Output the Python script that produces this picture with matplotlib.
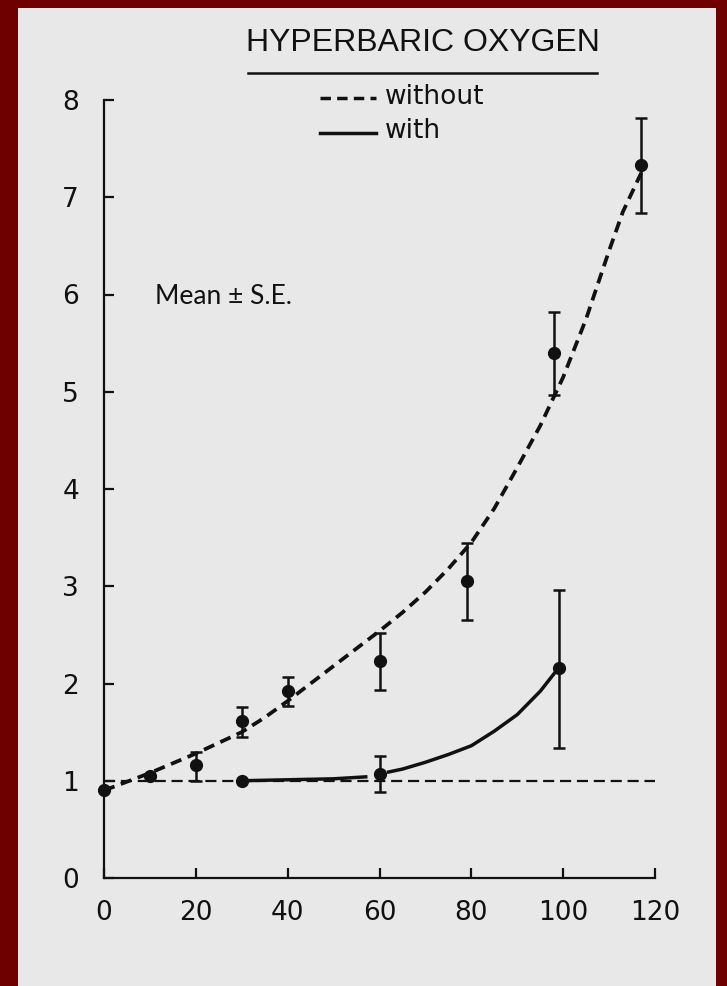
"""
Hyperbaric oxygen - mean +/- S.E. with and without, redrawn from scan.
"""
import matplotlib
matplotlib.use("Agg")
import matplotlib.pyplot as plt
from matplotlib.lines import Line2D
from matplotlib.patches import Rectangle

# measured points (without)
x_without = [0, 10, 20, 30, 40, 60, 79, 98, 117]
y_without = [0.90, 1.05, 1.16, 1.61, 1.92, 2.23, 3.05, 5.40, 7.33]
err_lo_without = [0.0, 0.0, 0.16, 0.16, 0.15, 0.30, 0.40, 0.43, 0.49]
err_hi_without = [0.0, 0.0, 0.14, 0.15, 0.15, 0.29, 0.39, 0.42, 0.49]

# measured points (with)
x_with = [30, 60, 99]
y_with = [1.00, 1.07, 2.16]
err_lo_with = [0.0, 0.19, 0.82]
err_hi_with = [0.0, 0.18, 0.80]

# fitted curve
curve_without_x = [0, 5, 10, 15, 20, 25, 30, 35, 40, 45, 50, 55, 60, 65,
                   70, 75, 80, 85, 90, 95, 100, 105, 110, 113, 117]
curve_without_y = [0.90, 0.99, 1.08, 1.18, 1.28, 1.39, 1.50, 1.65, 1.82,
                   2.00, 2.18, 2.36, 2.54, 2.73, 2.94, 3.18, 3.45, 3.80,
                   4.22, 4.65, 5.15, 5.75, 6.45, 6.85, 7.25]

curve_with_x1 = [30, 40, 50, 57]
curve_with_y1 = [1.00, 1.01, 1.02, 1.04]
curve_with_x2 = [62, 65, 70, 75, 80, 85, 90, 95, 98]
curve_with_y2 = [1.09, 1.12, 1.19, 1.27, 1.36, 1.51, 1.68, 1.92, 2.10]

baseline_x = [0, 120]
baseline_y = [1, 1]

x_ticks = [0, 20, 40, 60, 80, 100, 120]
y_ticks = [0, 1, 2, 3, 4, 5, 6, 7, 8]

INK = "#111111"
PAPER = "#e8e8e8"
BORDER = "#6f0000"

W, H = 727, 986
fig = plt.figure(figsize=(W / 100, H / 100), dpi=100, facecolor=BORDER)
fig.add_artist(Rectangle((18 / W, 0), (716 - 18) / W, (H - 8) / H,
                         transform=fig.transFigure, facecolor=PAPER,
                         edgecolor="none", zorder=0))

ax = fig.add_axes([104 / W, (H - 878) / H, (655 - 104) / W, (878 - 100) / H])
ax.set_facecolor("none")
ax.set_xlim(0, 120)
ax.set_ylim(0, 8)

for side in ["top", "right"]:
    ax.spines[side].set_visible(False)
for side in ["left", "bottom"]:
    ax.spines[side].set_linewidth(1.6)
    ax.spines[side].set_color(INK)

tick_font = dict(family="DejaVu Sans", size=19)
ax.set_xticks(x_ticks)
ax.set_yticks(y_ticks)
ax.set_xticklabels([str(t) for t in x_ticks], **tick_font)
ax.set_yticklabels([str(t) for t in y_ticks], **tick_font)
ax.tick_params(axis="both", direction="in", length=7, width=1.6,
               colors=INK, labelcolor=INK)
ax.tick_params(axis="x", pad=16)
ax.tick_params(axis="y", pad=18)

# reference line at 1
ax.plot(baseline_x, baseline_y, color=INK, lw=1.6, dashes=(5, 2.6),
        clip_on=False, zorder=2)

# curves
ax.plot(curve_without_x, curve_without_y, color=INK, lw=2.7,
        dashes=(3.0, 1.8), clip_on=False, zorder=3)
ax.plot(curve_with_x1, curve_with_y1, color=INK, lw=2.5, zorder=3)
ax.plot(curve_with_x2, curve_with_y2, color=INK, lw=2.5, zorder=3)

# points with error bars
ax.errorbar(x_without, y_without, yerr=[err_lo_without, err_hi_without],
            fmt="o", color=INK, ms=8.5, elinewidth=1.8, capsize=4.5,
            capthick=1.8, clip_on=False, zorder=4)
ax.errorbar(x_with, y_with, yerr=[err_lo_with, err_hi_with],
            fmt="o", color=INK, ms=8.5, elinewidth=1.8, capsize=4.5,
            capthick=1.8, clip_on=False, zorder=4)

# title, underlined
fig.text(423 / W, 1 - 43 / H, "HYPERBARIC OXYGEN", ha="center", va="center",
         fontsize=23, color=INK, family="Liberation Sans")
fig.add_artist(Line2D([248 / W, 597 / W], [1 - 73 / H, 1 - 73 / H],
                      transform=fig.transFigure, color=INK, lw=1.8))

# legend drawn by hand
fig.add_artist(Line2D([320 / W, 376 / W], [1 - 98 / H, 1 - 98 / H],
                      transform=fig.transFigure, color=INK, lw=2.5,
                      dashes=(3.0, 1.8)))
fig.add_artist(Line2D([320 / W, 376 / W], [1 - 133 / H, 1 - 133 / H],
                      transform=fig.transFigure, color=INK, lw=2.5))
fig.text(385 / W, 1 - 97 / H, "without", ha="left", va="center",
         fontsize=19, color=INK)
fig.text(385 / W, 1 - 131 / H, "with", ha="left", va="center",
         fontsize=19, color=INK)

fig.text(155 / W, 1 - 296 / H, "Mean \u00b1 S.E.", ha="left", va="center",
         fontsize=19, color=INK, family="Lato")

fig.savefig("out.png", dpi=100, facecolor=BORDER)
print("Guardado: out.png")
